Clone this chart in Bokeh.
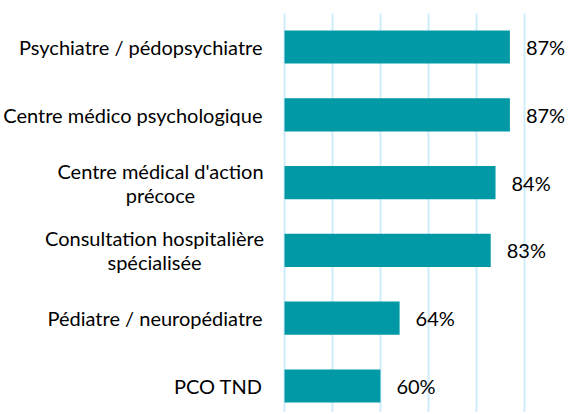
from bokeh.plotting import figure
from bokeh.models import Range1d, FixedTicker, ColumnDataSource
from bokeh.embed import file_html
from bokeh.resources import INLINE
from bokeh.core.properties import value

categories = [
    "Psychiatre / pédopsychiatre",
    "Centre médico psychologique",
    "Centre médical d'action\nprécoce",
    "Consultation hospitalière\nspécialisée",
    "Pédiatre / neuropédiatre",
    "PCO TND",
]
values = [87, 87, 84, 83, 64, 60]
labels = ["87%", "87%", "84%", "83%", "64%", "60%"]
grid_ticks = [40, 50, 60, 70, 80, 90]
axis_min = 40

# layout (screen px) for category labels: single lines right-aligned, wrapped ones centred
cat_align = ["right", "right", "center", "center", "right", "right"]
cat_offset = [-22, -22, -124, -130, -22, -22]

FONT = "Lato"
TEAL = "#0199a6"

n = len(categories)
ypos = [n - 1 - i for i in range(n)]

src = ColumnDataSource(dict(y=ypos, v=values, lab=labels, base=[axis_min] * n,
                            cat=categories, al=cat_align, off=cat_offset))

p = figure(width=568, height=412, output_backend="svg", toolbar_location=None,
           x_range=Range1d(-19.216, 99.216), y_range=Range1d(-0.391, 5.494),
           min_border_left=0, min_border_right=0, min_border_top=13, min_border_bottom=0)
p.outline_line_color = None
p.background_fill_color = "white"
p.border_fill_color = "white"
p.xaxis.visible = False
p.yaxis.visible = False
p.ygrid.visible = False
p.xgrid.ticker = FixedTicker(ticks=grid_ticks)
p.xgrid.grid_line_color = "#cfecfb"
p.xgrid.grid_line_width = 2

p.hbar(y="y", left="base", right="v", height=0.49, source=src,
       fill_color=TEAL, line_color=None)
p.text(x="v", y="y", text="lab", source=src, x_offset=16,
       text_align="left", text_baseline="middle",
       text_font=value(FONT), text_font_size="20px", text_color="#000000")
p.text(x="base", y="y", text="cat", source=src, x_offset="off",
       text_align="al", text_baseline="middle", text_line_height=1.0,
       text_font=value(FONT), text_font_size="20px", text_color="#000000")

open("out.html", "w").write(file_html(p, INLINE))
